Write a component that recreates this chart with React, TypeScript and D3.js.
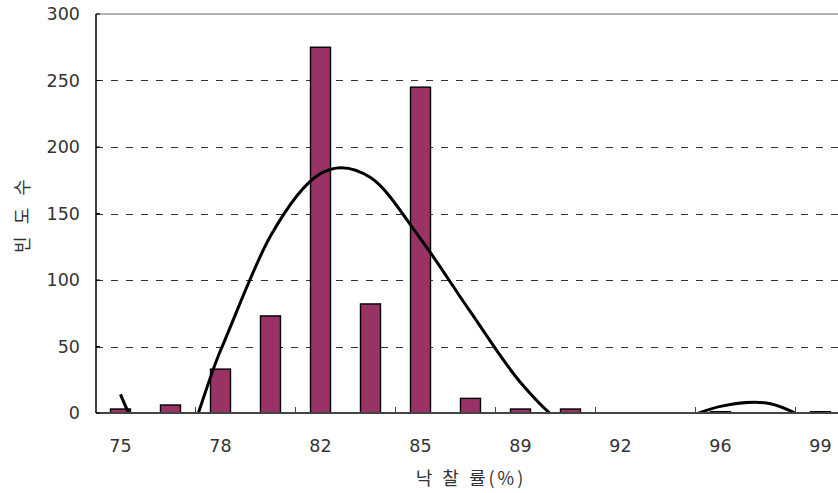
import * as d3 from "d3";
import React, { useRef, useEffect } from "react";

const width = 838;
const height = 493;

// 15 bins, every other one labelled
const binLabels = ["75", "", "78", "", "82", "", "85", "", "89", "", "92", "", "96", "", "99"];
const counts = [3, 6, 33, 73, 275, 82, 245, 11, 3, 3, 0, 0, 1, 0, 1];
const fitted = [14, -42, 47, 133, 180, 177, 131, 76, 23, -12, -20, -8, 5, 7, -10];
const yTicks = [0, 50, 100, 150, 200, 250, 300];

const numFont = "'DejaVu Sans', 'Liberation Sans', sans-serif";
const krFont = "'Noto Sans CJK KR', 'Liberation Sans', sans-serif";

function Histogram() {
  const ref = useRef<SVGSVGElement>(null);

  useEffect(() => {
    const svg = d3.select(ref.current);
    svg.selectAll("*").remove();

    const idx = counts.map((d, i) => i);
    const x0 = 95.5;
    const x = d3.scaleBand<number>().domain(idx).range([x0, x0 + 750]).paddingInner(0.6).paddingOuter(0.3);
    const y = d3.scaleLinear().domain([0, 300]).range([413, 14]);
    const step = x.step();
    const cx = (i: number) => (x(i) as number) + x.bandwidth() / 2;
    const left = 96;
    const right = width;

    svg.append("rect").attr("width", width).attr("height", height).attr("fill", "#fff");

    svg
      .append("defs")
      .append("clipPath")
      .attr("id", "plot")
      .append("rect")
      .attr("x", left)
      .attr("y", y(300))
      .attr("width", right - left)
      .attr("height", y(0) - y(300));

    // grid lines
    svg
      .selectAll(".grid")
      .data(yTicks.filter((t) => t > 0 && t < 300))
      .join("line")
      .classed("grid", true)
      .attr("x1", left)
      .attr("x2", right)
      .attr("y1", (d) => Math.round(y(d)) + 0.5)
      .attr("y2", (d) => Math.round(y(d)) + 0.5)
      .attr("stroke", "#333")
      .attr("stroke-width", 1)
      .attr("stroke-dasharray", "7,8");

    svg
      .append("line")
      .attr("x1", left)
      .attr("x2", right)
      .attr("y1", y(300))
      .attr("y2", y(300))
      .attr("stroke", "#999")
      .attr("stroke-width", 1.5);

    // bars
    svg
      .selectAll(".bar")
      .data(counts)
      .join("rect")
      .classed("bar", true)
      .attr("x", (d, i) => x(i) as number)
      .attr("width", x.bandwidth())
      .attr("y", (d) => y(d))
      .attr("height", (d) => y(0) - y(d))
      .attr("fill", "#993366")
      .attr("stroke", "#000")
      .attr("stroke-width", 1.4)
      .style("display", (d) => (d > 0 ? null : "none"));

    // fitted curve
    const line = d3
      .line<number>()
      .x((d, i) => cx(i))
      .y((d) => y(d))
      .curve(d3.curveCardinal.tension(0));

    svg
      .append("path")
      .datum(fitted)
      .attr("d", line)
      .attr("fill", "none")
      .attr("stroke", "#000")
      .attr("stroke-width", 3)
      .attr("clip-path", "url(#plot)");

    // axes
    svg
      .append("line")
      .attr("x1", left)
      .attr("x2", right)
      .attr("y1", y(0))
      .attr("y2", y(0))
      .attr("stroke", "#444")
      .attr("stroke-width", 2);

    svg
      .append("line")
      .attr("x1", left)
      .attr("x2", left)
      .attr("y1", y(300))
      .attr("y2", y(0))
      .attr("stroke", "#000")
      .attr("stroke-width", 1.5);

    svg
      .selectAll(".ytick")
      .data(yTicks)
      .join("line")
      .classed("ytick", true)
      .attr("x1", left)
      .attr("x2", left + 4)
      .attr("y1", (d) => y(d))
      .attr("y2", (d) => y(d))
      .attr("stroke", "#000")
      .attr("stroke-width", 1);

    svg
      .selectAll(".ylabel")
      .data(yTicks)
      .join("text")
      .classed("ylabel", true)
      .attr("x", 80)
      .attr("y", (d) => y(d))
      .attr("dy", "0.36em")
      .attr("text-anchor", "end")
      .attr("fill", "#333")
      .style("font-family", numFont)
      .style("font-size", "17.5px")
      .text((d) => d);

    // x ticks between every second bin
    const xTickPos = d3.range(2, counts.length + 1, 2).map((i) => x0 + i * step);
    svg
      .selectAll(".xtick")
      .data(xTickPos.filter((p) => p < right))
      .join("line")
      .classed("xtick", true)
      .attr("x1", (d) => d)
      .attr("x2", (d) => d)
      .attr("y1", y(0))
      .attr("y2", y(0) - 6)
      .attr("stroke", "#444")
      .attr("stroke-width", 1);

    svg
      .selectAll(".xlabel")
      .data(binLabels)
      .join("text")
      .classed("xlabel", true)
      .attr("x", (d, i) => cx(i))
      .attr("y", 452)
      .attr("text-anchor", "middle")
      .attr("fill", "#333")
      .style("font-family", numFont)
      .style("font-size", "17.5px")
      .text((d) => d);

    svg
      .append("text")
      .attr("x", 471)
      .attr("y", 485)
      .attr("text-anchor", "middle")
      .attr("fill", "#333")
      .style("font-family", krFont)
      .style("font-size", "18px")
      .style("letter-spacing", "3px")
      .text("낙 찰 률(%)");

    svg
      .append("text")
      .attr("transform", `translate(29, 214) rotate(-90)`)
      .attr("text-anchor", "middle")
      .attr("fill", "#333")
      .style("font-family", krFont)
      .style("font-size", "18px")
      .style("letter-spacing", "4px")
      .text("빈 도 수");
  }, []);

  return <svg ref={ref} width={width} height={height} style={{ display: "block" }}></svg>;
}

export default function App() {
  return (
    <div style={{ position: "absolute", left: 0, top: 0 }}>
      <Histogram />
    </div>
  );
}
